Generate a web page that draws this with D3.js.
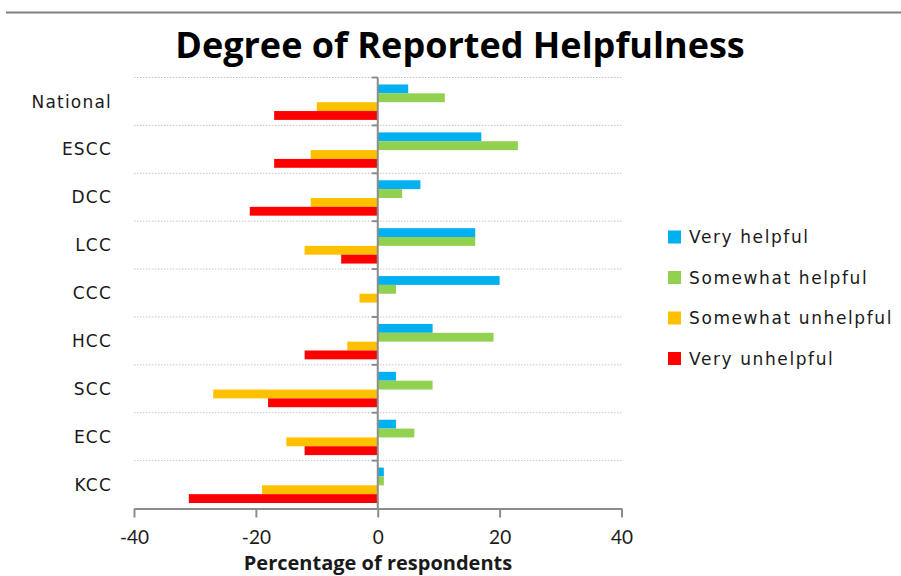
<!DOCTYPE html>
<html>
<head>
<meta charset="utf-8">
<script src="https://cdn.jsdelivr.net/npm/d3@7"></script>
<style>
  html, body { margin: 0; padding: 0; background: #fff; }
  svg { display: block; }
</style>
</head>
<body>
<svg id="chart" width="901" height="576"></svg>
<script>
// Survey responses by area, percentage of respondents
const categories = ["National", "ESCC", "DCC", "LCC", "CCC", "HCC", "SCC", "ECC", "KCC"];
const seriesNames = ["Very helpful", "Somewhat helpful", "Somewhat unhelpful", "Very unhelpful"];
const veryHelpful       = [5, 17, 7, 16, 20, 9, 3, 3, 1];
const somewhatHelpful   = [11, 23, 4, 16, 3, 19, 9, 6, 1];
const somewhatUnhelpful = [-10, -11, -11, -12, -3, -5, -27, -15, -19];
const veryUnhelpful     = [-17, -17, -21, -6, 0, -12, -18, -12, -31];
const xTicks = [-40, -20, 0, 20, 40];
const seriesColors = ["#00B0F0", "#92D050", "#FFC000", "#FF0000"];

const seriesValues = [veryHelpful, somewhatHelpful, somewhatUnhelpful, veryUnhelpful];
const rows = categories.map((c, i) => ({
  category: c,
  values: seriesNames.map((s, j) => ({ series: s, value: seriesValues[j][i], color: seriesColors[j] }))
}));

const svg = d3.select("#chart");
const labelFont = "'DejaVu Sans', Verdana, sans-serif";
const headFont = "'Open Sans', Lato, sans-serif";
const tickFont = "Lato, 'Open Sans', sans-serif";

// frame line along the top
svg.append("line")
  .attr("x1", 6).attr("x2", 901).attr("y1", 12.5).attr("y2", 12.5)
  .attr("stroke", "#808080").attr("stroke-width", 2);

// title
svg.append("text")
  .attr("x", 460).attr("y", 58)
  .attr("text-anchor", "middle")
  .attr("font-family", headFont).attr("font-weight", 700)
  .attr("font-size", 36)
  .attr("fill", "#000")
  .text("Degree of Reported Helpfulness");

const x = d3.scaleLinear().domain([-40, 40]).range([134, 621.5]);
const y = d3.scaleBand().domain(categories).range([77.5, 508.5]).padding(0);
const inner = d3.scaleBand().domain(seriesNames)
  .range([7, y.bandwidth() - 5.5]).padding(0);

// dotted gridlines at the category boundaries
const boundaries = categories.map(c => y(c));
svg.append("g")
  .selectAll("line")
  .data(boundaries)
  .join("line")
  .attr("x1", x(-40)).attr("x2", x(40))
  .attr("y1", d => d).attr("y2", d => d)
  .attr("stroke", "#c4c4c4").attr("stroke-width", 1)
  .attr("stroke-dasharray", "1.5,1.5");

// bars
const groups = svg.append("g").selectAll("g")
  .data(rows)
  .join("g")
  .attr("transform", d => `translate(0,${y(d.category)})`);

groups.selectAll("rect")
  .data(d => d.values)
  .join("rect")
  .attr("x", d => x(Math.min(0, d.value)))
  .attr("width", d => Math.abs(x(d.value) - x(0)))
  .attr("y", d => inner(d.series))
  .attr("height", inner.bandwidth())
  .attr("fill", d => d.color);

// category axis at zero
const yAxis = svg.append("g")
  .attr("transform", `translate(${x(0)},0)`)
  .call(d3.axisLeft(y).tickSize(0).tickFormat(""));
yAxis.select(".domain").remove();
yAxis.append("line")
  .attr("x1", 0).attr("x2", 0)
  .attr("y1", y.range()[0]).attr("y2", y.range()[1])
  .attr("stroke", "#8c8c8c").attr("stroke-width", 2);
yAxis.selectAll(".boundary-tick")
  .data(boundaries)
  .join("line")
  .attr("class", "boundary-tick")
  .attr("x1", -6).attr("x2", 0)
  .attr("y1", d => d).attr("y2", d => d)
  .attr("stroke", "#8c8c8c").attr("stroke-width", 2);

// category labels on the left
svg.append("g").selectAll("text")
  .data(categories)
  .join("text")
  .attr("x", 112)
  .attr("y", d => y(d) + y.bandwidth() / 2)
  .attr("dy", "0.36em")
  .attr("text-anchor", "end")
  .attr("font-family", labelFont)
  .attr("font-size", 17)
  .attr("letter-spacing", "1.2px")
  .attr("fill", "#1a1a1a")
  .text(d => d);

// value axis
const xAxis = svg.append("g")
  .attr("transform", `translate(0,${y.range()[1]})`)
  .call(d3.axisBottom(x).tickValues(xTicks).tickFormat(d => String(d))
    .tickSize(9).tickPadding(13).tickSizeOuter(0));
xAxis.select(".domain").attr("stroke", "#8c8c8c").attr("stroke-width", 2);
xAxis.selectAll(".tick line").attr("stroke", "#8c8c8c").attr("stroke-width", 2);
xAxis.selectAll(".tick text")
  .attr("font-family", tickFont)
  .attr("font-size", 19)
  .attr("fill", "#1a1a1a");

svg.append("text")
  .attr("x", 378).attr("y", 570)
  .attr("text-anchor", "middle")
  .attr("font-family", headFont).attr("font-weight", 700)
  .attr("font-size", 20)
  .attr("fill", "#1a1a1a")
  .text("Percentage of respondents");

// legend
const legend = svg.append("g").selectAll("g")
  .data(seriesNames)
  .join("g")
  .attr("transform", (d, i) => `translate(668,${237 + i * 40.5})`);
legend.append("rect")
  .attr("x", 0).attr("y", -6.5)
  .attr("width", 13).attr("height", 13)
  .attr("fill", (d, i) => seriesColors[i]);
legend.append("text")
  .attr("x", 21).attr("y", 0)
  .attr("dy", "0.36em")
  .attr("font-family", labelFont)
  .attr("font-size", 17)
  .attr("letter-spacing", "1.6px")
  .attr("fill", "#1a1a1a")
  .text(d => d);
</script>
</body>
</html>
